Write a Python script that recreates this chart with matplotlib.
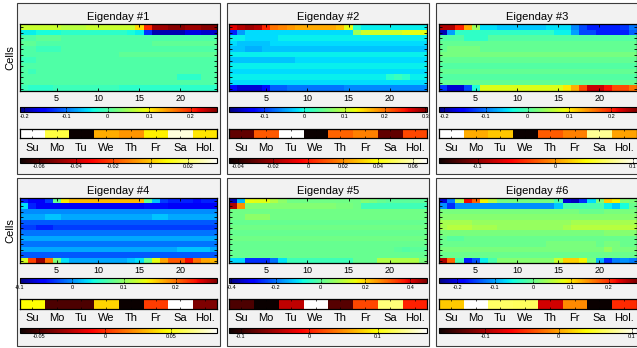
import numpy as np
import matplotlib
matplotlib.use('Agg')
import matplotlib.pyplot as plt
from matplotlib.patches import Rectangle

plt.rcParams['font.family'] = ['Liberation Sans', 'DejaVu Sans']
plt.rcParams['axes.unicode_minus'] = False

W, H = 637, 348

#####################  data  ####################
days = ['Su', 'Mo', 'Tu', 'We', 'Th', 'Fr', 'Sa', 'Hol.']
titles = ['Eigenday #1', 'Eigenday #2', 'Eigenday #3',
          'Eigenday #4', 'Eigenday #5', 'Eigenday #6']

# eigenday weights per cell (rows) and hour (cols), in hundredths
eig1 = [
    [7, 7, 7, 7, 7, 6, 6, 6, 7, 7, 7, 7, 7, 7, 11, 20, 25, 25, 26, 26, 25, 25, 26, 26],
    [-4, -4, -3, -3, -3, -2, -2, -2, -2, -2, -2, -2, -2, -3, -4, -13, -19, -19, -19, -19, -17, -17, -18, -18],
    [0, 0, 1, 1, 1, 0, 0, 0, 0, 0, 0, 0, 0, 0, 0, 0, 0, 0, 0, 0, 0, 0, 0, 0],
    [1, 1, 0, 0, 0, 0, 0, 0, 0, 0, 0, 0, 0, 0, 0, 0, 1, 1, 1, 1, 1, 1, 1, 1],
    [0, 0, -1, -1, -1, 0, 0, 0, 0, 0, 0, 0, 0, 0, 0, 0, 0, 0, 0, 0, 0, 0, 0, 0],
    [0, 0, 0, 0, 0, 0, 0, 0, 0, 0, 0, 0, 1, 1, 1, 1, 1, 1, 1, 1, 1, 1, 1, 1],
    [-1, -1, 0, 0, 0, 0, 0, 0, 0, 0, 0, 0, 0, 0, 0, 0, 0, 0, 0, 0, 0, 0, 0, 0],
    [0, 0, 0, 0, 0, 0, 0, 0, 0, 0, 0, 0, 0, 0, 0, 0, 0, 0, 0, 0, 0, 0, 0, 0],
    [0, -1, 0, 0, 0, 0, 0, 0, 0, 0, 0, 0, 0, 0, 0, 0, 0, 0, 0, 0, 0, 0, 0, 0],
    [0, 0, 0, 0, 0, 0, 0, 0, 0, 0, 0, 0, 0, 0, 0, 0, 0, 0, 0, -2, -2, -2, 0, 0],
    [0, 0, 0, 0, 0, 0, 0, 0, 0, 0, 0, 0, 0, 0, 0, 0, 0, 0, 0, 0, 0, 0, 0, 0],
    [-1, -2, -2, -2, -1, -1, -1, -1, -1, -1, -1, -1, -2, -2, -2, -2, -2, -2, -2, -2, -2, -2, -2, -2],
]
eig2 = [
    [26, 28, 29, 28, 24, 20, 19, 18, 17, 17, 17, 17, 17, 16, 12, 1, -1, -1, -1, -1, -1, -1, -1, -1],
    [-11, -5, -2, -2, -2, -2, -2, -2, -2, -2, -2, -2, -2, -2, -2, 8, 11, 11, 11, 11, 11, 12, 12, 12],
    [-1, -1, -2, -2, -2, -2, -1, -1, -1, -1, -1, -1, -1, -1, -1, -1, -1, -1, -1, -1, -1, -1, -1, -1],
    [-2, -3, -3, -3, -3, -2, -2, -2, -2, -2, -2, -2, -2, -2, -2, -2, -2, -2, -2, -2, -2, -2, -2, -2],
    [-3, -3, -4, -4, -3, -3, -3, -3, -3, -3, -3, -3, -3, -3, -3, -3, -3, -3, -3, -3, -3, -3, -3, -3],
    [-1, -1, -1, -1, -1, -1, -1, -1, -1, -1, -1, -1, -1, -1, -1, -1, -1, -1, -1, -1, -1, -1, -1, -1],
    [-3, -3, -3, -3, -3, -3, -3, -3, -2, -2, -2, -2, -2, -2, -2, -2, -2, -2, -2, -2, -2, -2, -2, -2],
    [-1, -1, -1, -1, -1, -1, -1, -1, -1, -1, -1, -1, -1, -1, -1, -1, -1, -1, -1, -1, -1, -1, -1, -1],
    [-2, -2, -2, -2, -2, -2, -2, -2, -2, -2, -2, -2, -2, -2, -2, -2, -2, -2, -2, -2, -2, -2, -2, -2],
    [-1, -1, -1, -1, -1, -1, -1, -1, -1, -1, -1, -1, -1, -1, -1, -1, -1, -1, -1, 1, 2, 1, -1, -1],
    [-2, -2, -2, -2, -2, -2, -2, -2, -2, -2, -2, -2, -2, -2, -2, -2, -2, -2, -2, -2, -2, -2, -2, -2],
    [-12, -15, -15, -15, -12, -8, -8, -7, -7, -7, -7, -7, -7, -7, -6, -6, -6, -6, -6, -6, -6, -6, -6, -6],
]
eig3 = [
    [24, 24, 20, 13, 4, -5, -5, -6, -6, -6, -6, -6, -6, -5, -5, -5, -9, -12, -14, -14, -14, -14, -13, -10],
    [-19, -8, -2, -2, -2, -2, -2, -2, -2, -2, -2, -2, -2, -2, -4, -4, -8, -12, -12, -14, -14, -14, -14, -11],
    [0, 0, 0, -2, -2, -2, 0, 0, 0, 0, 0, 0, 0, 0, 0, 0, 0, 0, 0, 0, 0, 0, 0, 0],
    [1, 1, 1, 1, 1, 1, 1, 1, 1, 1, 1, 1, 1, 1, 1, 1, 1, 1, 1, 1, 1, 1, 1, 1],
    [1, 2, 2, 2, 2, 1, 1, 1, 1, 1, 1, 1, 1, 1, 1, 1, 1, 1, 1, 1, 1, 1, 1, 1],
    [2, 2, 2, 2, 2, 2, 2, 2, 2, 2, 2, 2, 2, 2, 2, 2, 2, 2, 2, 2, 2, 2, 2, 2],
    [1, 1, 1, 1, 1, 1, 1, 1, 1, 1, 1, 1, 1, 1, 1, 1, 1, 1, 1, 1, 1, 1, 1, 1],
    [0, 0, 0, 0, 0, 0, 0, 0, 0, 0, 0, 0, 0, 0, 0, 0, 0, 0, 0, 0, 0, 0, 0, 0],
    [1, 1, 1, 1, 1, 1, 1, 1, 1, 1, 1, 1, 1, 1, 1, 1, 1, 1, 1, 1, 1, 1, 1, 1],
    [0, 0, 0, 0, 0, 0, 0, 0, 0, 0, 0, 0, 0, 0, 0, 0, 0, 0, 0, 0, 0, 0, 0, 0],
    [1, 1, 1, 1, 1, 1, 1, 1, 1, 1, 1, 1, 1, 1, 1, 1, 1, 1, 1, 1, 1, 1, 1, 1],
    [-13, -18, -18, -12, -3, 8, 8, 8, 8, 8, 8, 8, 8, 8, 8, 10, 13, 18, 23, 23, 21, 18, 18, 16],
]
eig4 = [
    [-4, -6, -6, -3, 8, 15, 17, 17, 17, 17, 17, 17, 17, 17, 17, 8, 2, -3, -4, -4, -4, -5, -4, -4],
    [3, -4, -6, -6, -6, -6, -6, -6, -6, -6, -6, -6, -6, -6, -6, -5, -5, -5, -6, -6, -6, -6, -6, -6],
    [0, 0, 0, 0, 0, 0, 0, 0, 0, 0, 0, 0, 0, 0, 0, 0, 0, 0, 0, 0, 0, 0, 0, 0],
    [1, 1, 1, 2, 2, 1, 1, 1, 1, 1, 1, 1, 1, 1, 1, 1, 2, 2, 1, 1, 1, 1, 1, 1],
    [-2, -2, -2, -2, -2, -2, -2, -2, -2, -2, -2, -2, -2, -2, -2, -2, -2, -2, -2, -2, -2, -2, -2, -2],
    [-3, -3, -4, -4, -3, -3, -3, -3, -3, -3, -3, -3, -3, -3, -3, -3, -3, -3, -3, -3, -3, -3, -3, -3],
    [-1, -1, -1, -1, -1, -1, -1, -1, -1, -1, -1, -1, -1, -1, -1, -1, -1, -1, -1, -1, -1, -1, -1, -1],
    [1, 1, 1, 1, 1, 1, 1, 1, 1, 1, 1, 1, 1, 1, 1, 1, 1, 1, 1, 1, 1, 1, 1, 1],
    [-1, -1, -1, -1, -1, -1, -1, -1, -1, -1, -1, -1, -1, -1, -1, -1, -1, -1, -1, -1, -1, -1, -1, -1],
    [1, 1, 1, 1, 1, 1, 1, 1, 1, 1, 1, 1, 1, 1, 1, 1, 1, 1, 1, 2, 2, 2, 2, 1],
    [-2, -2, -2, -2, -2, -2, -2, -2, -2, -2, -2, -2, -2, -2, -2, -2, -2, -2, -2, -2, -2, -2, -2, -2],
    [13, 22, 27, 20, 9, 3, 1, 1, 1, 1, 1, 1, 1, 2, 3, 8, 14, 18, 21, 21, 24, 20, 18, 17],
]
eig5 = [
    [-37, -14, 15, 14, 14, 9, 5, 2, 2, 2, 2, 2, 2, 2, 2, 2, 4, 3, 1, 0, 0, 0, 0, 0],
    [44, 26, 4, 4, 4, 4, 4, 4, 4, 4, 4, 4, 4, 3, 3, 2, -3, -3, -3, -3, -3, -3, -3, -3],
    [2, 2, 2, 2, 2, 2, 2, 2, 2, 2, 2, 2, 2, 2, 2, 2, 2, 2, 2, 2, 2, 2, 2, 2],
    [2, 2, 5, 5, 5, 2, 2, 2, 2, 2, 2, 2, 2, 2, 2, 2, 2, 2, 2, 2, 2, 2, 2, 2],
    [1, 1, 1, 1, 1, 1, 1, 1, 1, 1, 1, 1, 1, 1, 1, 1, 1, 1, 1, 1, 1, 1, 1, 1],
    [2, 2, 2, 2, 2, 2, 2, 2, 2, 2, 2, 2, 2, 2, 2, 2, 2, 2, 2, 2, 2, 2, 2, 2],
    [1, 1, 1, 1, 1, 1, 1, 1, 1, 1, 1, 1, 1, 1, 1, 1, 1, 1, 1, 1, 1, 1, 1, 1],
    [2, 2, 2, 2, 2, 2, 2, 2, 2, 2, 2, 2, 2, 2, 2, 2, 2, 2, 2, 2, 2, 2, 2, 2],
    [1, 1, 1, 1, 1, 1, 1, 1, 1, 1, 1, 1, 1, 1, 1, 1, 1, 1, 1, 1, 1, 1, 1, 1],
    [1, 1, 1, 1, 1, 1, 1, 1, 1, 1, 1, 1, 1, 1, 1, 1, 1, 1, 1, 1, 0, -1, 0, 0],
    [1, 1, 1, 1, 1, 1, 1, 1, 1, 1, 1, 1, 1, 1, 1, 1, 1, 1, 1, 1, 1, 1, 1, 1],
    [-11, -11, -26, -26, -26, -20, -10, -3, -3, -3, -3, -3, -3, -3, -3, 1, 1, 1, 9, 9, 9, 9, 9, 3],
]
eig6 = [
    [-21, -12, 4, 22, 17, 9, 5, 1, 1, 1, 1, 1, 1, 1, -2, -21, -22, -16, -7, 1, 11, 9, 2, 1],
    [-11, -16, -11, -11, -11, -11, -11, -11, -11, -11, -11, -11, -11, -11, -8, -2, -2, -2, -2, -2, -6, -8, -5, 0],
    [1, 1, 1, 1, 1, 1, 1, 1, 1, 1, 1, 1, 1, 1, 1, 1, 1, 0, 0, 0, 1, 1, 1, 1],
    [2, 2, 2, 2, 2, 2, 2, 2, 2, 2, 2, 2, 2, 2, 2, 2, 2, 2, 2, 2, 2, 2, 2, 2],
    [4, 4, 4, 4, 3, 3, 3, 3, 3, 3, 3, 3, 3, 3, 3, 3, 4, 4, 4, 4, 4, 4, 4, 4],
    [4, 5, 5, 5, 4, 4, 4, 3, 3, 3, 3, 3, 3, 3, 3, 4, 5, 5, 5, 5, 5, 5, 5, 5],
    [1, 1, 1, 1, 1, 1, 1, 1, 1, 1, 1, 1, 1, 1, 1, 1, 1, 1, 1, 1, 2, 2, 2, 2],
    [0, -1, -1, 0, 0, 0, 0, 0, 0, 0, 0, 0, 0, 0, 0, 0, 0, 0, 0, 0, 0, 0, 0, 0],
    [0, 0, 0, 0, 0, 0, 0, 0, 0, 0, 0, 0, 0, 1, 1, 1, 1, 1, 1, 0, 1, 1, 0, 0],
    [1, 1, 1, 1, 1, 1, 1, 1, 1, 1, 1, 1, 1, 1, 1, 1, 1, 1, 1, 1, 3, 1, 1, 1],
    [0, 0, 0, 0, 0, 0, 0, 0, 0, 0, 0, 0, 0, 0, 0, 0, 0, 0, 0, 0, 0, 0, 0, 0],
    [25, 17, -2, -17, -14, -6, -2, 2, 2, 2, 2, 2, 2, 2, 6, 11, 11, 9, 1, -9, -16, -12, -11, -12],
]
eigs = [eig1, eig2, eig3, eig4, eig5, eig6]

jet_lims = [(-0.212, 0.264), (-0.187, 0.304), (-0.214, 0.261),
            (-0.101, 0.28), (-0.41, 0.475), (-0.249, 0.273)]
jet_ticks = [[-0.2, -0.1, 0, 0.1, 0.2], [-0.1, 0, 0.1, 0.2, 0.3], [-0.2, -0.1, 0, 0.1, 0.2],
             [-0.1, 0, 0.1, 0.2], [-0.4, -0.2, 0, 0.2, 0.4], [-0.2, -0.1, 0, 0.1, 0.2]]

# day weights (Su..Hol.)
day1 = [0.036, 0.016, -0.0705, -0.004, -0.008, 0.0065, 0.032, 0.005]
day2 = [-0.030, 0.0115, 0.068, -0.045, 0.013, 0.018, -0.030, 0.008]
day3 = [0.105, 0.008, 0.019, -0.151, -0.023, -0.008, 0.078, 0.004]
day4 = [0.047, -0.05, -0.05, 0.037, -0.065, 0.003, 0.085, -0.039]
day5 = [-0.088, -0.117, -0.039, 0.172, -0.084, 0.019, 0.133, 0.002]
day6 = [0.016, 0.106, 0.064, 0.062, -0.083, -0.009, -0.164, -0.049]
day_vals = [day1, day2, day3, day4, day5, day6]

hot_lims = [(-0.0705, 0.036), (-0.045, 0.068), (-0.151, 0.105),
            (-0.065, 0.085), (-0.117, 0.172), (-0.164, 0.106)]
hot_ticks = [[-0.06, -0.04, -0.02, 0, 0.02], [-0.04, -0.02, 0, 0.02, 0.04, 0.06], [-0.1, 0, 0.1],
             [-0.05, 0, 0.05], [-0.1, 0, 0.1], [-0.1, 0, 0.1]]

#####################  layout (pixels from top-left)  ####################
col_x = [19.5, 229, 438.5]
HM_W = 198
box_top = [3, 178]
box_h = [171, 168]
title_y = [16.5, 191.5]
hm_top = [24.3, 198.3]
hm_h = [67, 65]
cb_top = [107.3, 278.3]
day_top = [128.7, 299]
hot_top = [158.3, 328.3]

fig = plt.figure(figsize=(W / 100, H / 100), dpi=100)


def place(x, y, w, h):
    return fig.add_axes([x / W, 1 - (y + h) / H, w / W, h / H])


def fmt(v):
    return '%g' % v


for i in range(6):
    r, c = divmod(i, 3)
    x0 = col_x[c]

    # grey panel
    fig.add_artist(Rectangle(((x0 - 2.5) / W, 1 - (box_top[r] + box_h[r]) / H), 203 / W, box_h[r] / H,
                             transform=fig.transFigure, facecolor='#f2f2f2',
                             edgecolor='#3c3c3c', lw=0.8, zorder=-1))

    # heatmap
    ax = place(x0, hm_top[r], HM_W, hm_h[r])
    data = np.array(eigs[i]) / 100.0
    im = ax.imshow(data, cmap='jet', vmin=jet_lims[i][0], vmax=jet_lims[i][1],
                   aspect='auto', interpolation='nearest', extent=(0.5, 24.5, 12.5, 0.5))
    ax.set_xticks([5, 10, 15, 20])
    ax.set_yticks(range(1, 13))
    ax.set_yticklabels([])
    ax.tick_params(direction='in', top=True, right=True, length=2, width=0.6,
                   labelsize=6.5, pad=2)
    for s in ax.spines.values():
        s.set_linewidth(0.9)
    fig.text((x0 + HM_W / 2) / W, 1 - title_y[r] / H, titles[i],
             ha='center', va='center', fontsize=8)
    if c == 0:
        fig.text(10 / W, 1 - (hm_top[r] + hm_h[r] / 2) / H, 'Cells',
                 rotation=90, ha='center', va='center', fontsize=8)

    # jet colorbar
    cax = place(x0, cb_top[r], HM_W, 5)
    cb = fig.colorbar(im, cax=cax, orientation='horizontal', ticks=jet_ticks[i])
    cb.ax.set_xticklabels([fmt(t) for t in jet_ticks[i]])
    cb.ax.tick_params(direction='in', top=True, bottom=True, length=1.5, width=0.5,
                      labelsize=4, pad=1)
    cb.outline.set_linewidth(0.8)

    # day strip
    dax = place(x0, day_top[r], HM_W, 9.7)
    imd = dax.imshow(np.array(day_vals[i])[None, :], cmap='hot',
                     vmin=hot_lims[i][0], vmax=hot_lims[i][1], aspect='auto',
                     interpolation='nearest', extent=(0.5, 8.5, 1.5, 0.5))
    dax.set_xticks(range(1, 9))
    dax.set_xticklabels(days)
    dax.set_yticks([])
    dax.tick_params(direction='in', top=True, length=1.5, width=0.5, labelsize=8, pad=3)
    for s in dax.spines.values():
        s.set_linewidth(0.9)

    # hot colorbar
    hax = place(x0, hot_top[r], HM_W, 4.5)
    hb = fig.colorbar(imd, cax=hax, orientation='horizontal', ticks=hot_ticks[i])
    hb.ax.set_xticklabels([fmt(t) for t in hot_ticks[i]])
    hb.ax.tick_params(direction='in', top=True, bottom=True, length=1.5, width=0.5,
                      labelsize=4, pad=1)
    hb.outline.set_linewidth(0.8)

fig.savefig('out.png', dpi=100)
